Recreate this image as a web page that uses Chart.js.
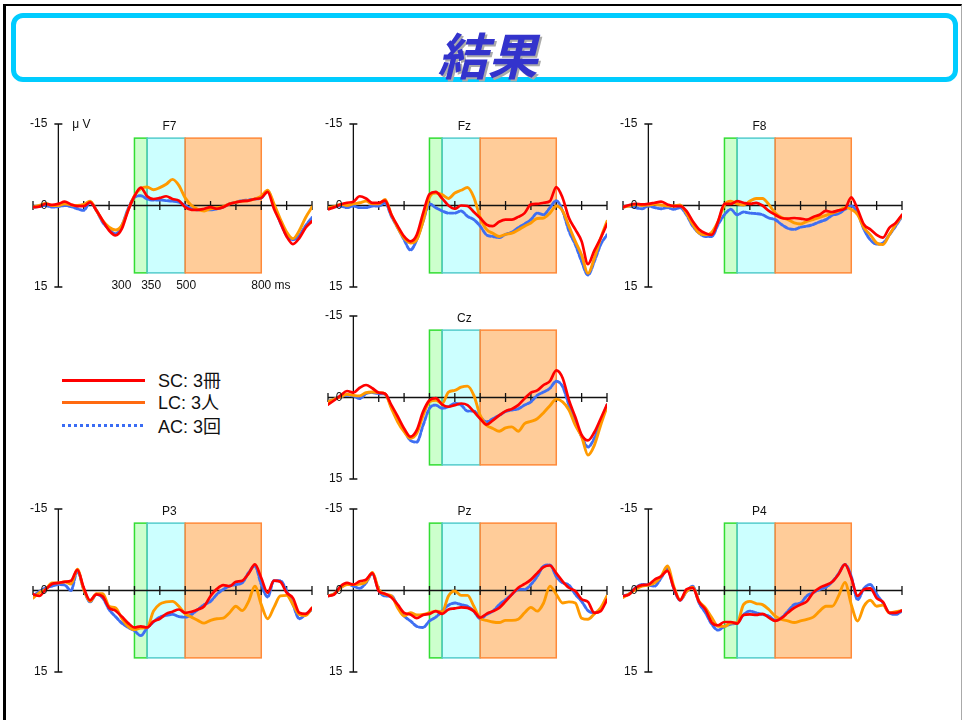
<!DOCTYPE html>
<html>
<head>
<meta charset="utf-8">
<script src="https://cdn.jsdelivr.net/npm/chart.js@4.4.1/dist/chart.umd.min.js"></script>
<style>
  html, body { margin: 0; padding: 0; background: #fff; }
  body { width: 963px; height: 720px; position: relative; overflow: hidden;
         font-family: "Liberation Sans", Arial, "Noto Sans CJK JP", sans-serif; }
  #frame { position: absolute; left: 3px; top: 4px; width: 959px; height: 740px;
           border-top: 2px solid #000; border-left: 3px solid #000; border-right: 1px solid #aaa;
           box-sizing: border-box; }
  #banner { position: absolute; left: 11px; top: 13px; width: 947px; height: 69px;
            border: 5px solid #00ccff; border-radius: 12px; box-sizing: border-box; }
  #title { position: absolute; left: 14px; top: 23px; width: 947px; height: 60px; line-height: 60px;
           text-align: center; font-family: "Noto Sans CJK JP", sans-serif; font-weight: 700;
           font-style: italic; font-size: 50px; color: #3333cc; text-shadow: 2px 2px 0 #aaaaaa; }
  canvas { position: absolute; }
  .lgline { position: absolute; left: 62px; width: 83px; height: 3px; }
  .lgtext { position: absolute; left: 158px; height: 20px; line-height: 20px; font-size: 18px; color: #111;
            font-family: "Liberation Sans", Arial, "Noto Sans CJK JP", sans-serif; white-space: nowrap; }
</style>
</head>
<body>
<div id="frame"></div>
<div id="banner"></div>
<div id="title">結果</div>

<div class="lgline" style="top:378.5px;background:#ff0000;"></div>
<div class="lgtext" style="top:371px;">SC: 3冊</div>
<div class="lgline" style="top:400.5px;background:#ff6a10;"></div>
<div class="lgtext" style="top:393px;">LC: 3人</div>
<div class="lgline" style="top:424px;background:repeating-linear-gradient(90deg,#3a6cf4 0 3px,transparent 3px 6px);"></div>
<div class="lgtext" style="top:416.5px;">AC: 3回</div>

<script>
// Sample times (ms) shared by every trace
const times = [-100, -75, -50, -25, 0, 25, 50, 75, 100, 125, 150, 175, 200, 225, 250, 275, 300,
  325, 350, 375, 400, 425, 450, 475, 500, 525, 550, 575, 600, 625, 650, 675, 700, 725, 750, 775,
  800, 825, 850, 875, 900, 925, 950, 975, 1000];

// Axis ticks and labels
const xTicks = [-100, 0, 100, 200, 300, 400, 500, 600, 700, 800, 900, 1000];
const yTickLabels = [-15, 0, 15];
const yLimits = [-15, 15];

// Analysis windows (ms) and their vertical extent (µV)
const windowStarts = [300, 350, 500];
const windowEnds = [350, 500, 800];
const windowLimit = 12.4;
const windowLabels = ['300', '350', '500', '800 ms'];

// Channel names
const channels = ['F7', 'Fz', 'F8', 'Cz', 'P3', 'Pz', 'P4'];

// Grand-average amplitudes (µV), negative up
const f7SC = [0.3, 0.2, -0.3, -0.1, -0.3, -0.7, -0.2, 0.1, 0.1, -0.6, 0.9, 2.8, 4.6, 5.5, 4.3, 0.9, -1.7,
  -3.3, -1.7, -1.2, -1.4, -1.7, -1.2, -0.9, 0.3, 0.8, 0.8, 0.6, 0.3, 0.6, 0.3, -0.3, -0.6, -0.8, -0.9, -1.2,
  -1.4, -2.5, 0.6, 3.1, 5.7, 7.1, 6.0, 4.1, 2.9];
const f7LC = [0.3, 0.0, -0.4, 0.0, 0.0, -0.3, -0.1, 0.0, -0.2, -0.8, 0.9, 2.8, 4.0, 4.5, 3.7, 0.9, -1.8,
  -3.1, -3.4, -2.9, -3.3, -3.9, -4.8, -3.7, -1.4, 0.0, 0.7, 1.0, 0.6, 0.4, 0.2, -0.3, -0.6, -0.8, -0.9, -1.2,
  -1.7, -2.8, -0.3, 2.5, 4.9, 6.1, 4.6, 2.2, 0.3];
const f7AC = [0.3, 0.2, 0.0, 0.3, 0.2, 0.0, 0.2, 0.6, 0.9, -0.6, 0.9, 3.1, 4.3, 5.2, 3.7, 0.6, -1.5,
  -1.8, -1.2, -1.0, -1.0, -0.9, -0.8, -0.6, 0.0, 0.6, 0.8, 0.8, 0.8, 0.6, 0.3, -0.3, -0.6, -0.9, -1.0, -1.2,
  -1.4, -2.6, 0.0, 3.1, 5.5, 6.3, 5.5, 3.7, 2.2];

const fzSC = [0.7, 0.3, -0.2, -0.5, -0.7, -1.7, -1.3, -0.5, -0.5, -0.9, 1.7, 3.8, 5.7, 6.6, 5.4, 1.4, -2.1,
  -2.5, -1.3, 0.0, 0.6, 0.0, 0.1, 1.2, 2.3, 3.5, 3.8, 3.0, 2.6, 2.6, 2.1, 1.4, -0.2, -0.3, -0.5, -0.8,
  -3.4, -1.4, 2.3, 4.4, 6.6, 10.8, 8.3, 6.0, 3.4];
const fzLC = [0.4, 0.2, -0.2, 0.0, -0.3, -0.5, -0.8, -0.3, -0.3, -1.1, 1.7, 4.1, 6.0, 6.9, 6.3, 2.9, -1.5,
  -2.3, -2.0, -1.3, -2.3, -2.8, -3.3, -1.5, 2.2, 4.4, 5.1, 5.7, 5.3, 5.1, 4.5, 3.8, 3.2, 2.4, 2.3, 1.4,
  0.1, 1.0, 3.8, 6.6, 9.1, 12.5, 9.7, 6.0, 2.9];
const fzAC = [0.4, 0.3, 0.1, 0.4, 0.1, 0.4, 0.4, 0.1, 0.1, -0.5, 2.0, 4.1, 6.3, 8.2, 6.3, 2.9, -0.3,
  0.4, 1.0, 1.4, 1.4, 1.0, 2.0, 2.6, 3.8, 5.4, 5.7, 5.9, 5.3, 4.9, 4.1, 3.4, 2.6, 1.4, 1.7, 0.4,
  -0.9, 1.0, 4.7, 7.2, 10.3, 12.8, 10.3, 7.2, 5.4];

const f8SC = [0.3, -0.1, -0.3, -0.2, -0.3, -0.5, -0.7, -0.2, 0.1, 0.1, 1.0, 2.9, 4.4, 5.1, 5.4, 2.9, -0.3,
  -0.3, -0.8, -0.5, -0.3, -0.5, 0.0, 1.0, 1.7, 2.3, 2.4, 2.3, 2.4, 2.6, 2.1, 1.7, 1.0, 1.2, 0.9, 0.6,
  -1.5, 0.7, 3.5, 4.4, 5.4, 5.9, 4.1, 3.2, 1.7];
const f8LC = [0.3, 0.1, -0.2, 0.0, -0.1, -0.2, -0.1, 0.1, 0.1, -0.1, 1.4, 3.5, 5.1, 5.4, 4.9, 2.9, -0.1,
  -0.8, -0.3, -0.1, -0.8, -1.3, -1.3, -0.2, 1.4, 2.2, 2.6, 3.2, 3.4, 2.9, 2.6, 2.2, 1.8, 1.4, 1.0, 0.4,
  0.7, 1.7, 4.1, 5.4, 6.9, 7.2, 5.4, 3.5, 1.8];
const f8AC = [0.3, 0.1, 0.4, 0.6, 0.1, 0.4, 0.6, 0.4, 0.7, 0.4, 1.7, 3.8, 5.1, 5.7, 5.7, 3.5, 1.7,
  0.7, 1.7, 1.2, 1.4, 1.5, 1.7, 2.3, 2.6, 3.5, 4.2, 4.4, 4.0, 3.8, 3.5, 3.0, 2.6, 1.8, 1.5, 0.7,
  0.1, 1.4, 4.4, 6.3, 7.1, 6.9, 5.4, 3.8, 2.0];

const czSC = [1.3, 0.5, -0.4, -1.2, -0.9, -1.8, -2.3, -1.7, -0.9, -0.7, 1.4, 3.5, 5.7, 7.2, 6.0, 2.6, 0.5,
  0.1, 1.3, 1.7, 1.4, 1.1, 1.4, 2.6, 3.9, 5.0, 4.2, 3.3, 2.5, 2.1, 1.4, 0.2, -0.9, -1.3, -2.3, -3.0,
  -5.0, -3.6, 0.5, 3.6, 6.9, 7.9, 6.4, 3.9, 1.3];
const czLC = [0.8, 0.3, -0.1, -0.6, -0.4, -0.3, -0.9, -1.0, -0.9, -0.7, 2.0, 4.5, 6.3, 7.5, 6.6, 3.3, 0.8,
  0.5, 1.1, -1.0, -1.3, -1.9, -2.1, -0.4, 3.3, 5.1, 5.7, 6.2, 5.6, 5.4, 6.2, 4.8, 4.4, 3.9, 2.8, 1.5,
  0.3, 0.8, 2.3, 5.1, 7.2, 10.6, 8.8, 5.1, 1.7];
const czAC = [0.8, 0.3, -0.1, -0.4, -0.3, 0.2, -0.7, -0.9, -0.7, -0.6, 1.7, 4.2, 6.0, 7.9, 8.2, 5.1, 2.0,
  1.4, 2.0, 1.7, 1.1, 1.4, 2.5, 2.5, 3.6, 4.5, 3.9, 3.3, 2.6, 2.3, 2.1, 1.4, 0.8, -0.4, -1.0, -1.7,
  -3.0, -2.0, 1.4, 4.5, 7.2, 9.1, 7.5, 4.5, 1.4];

const p3SC = [0.7, 1.0, -0.2, -1.2, -1.4, -1.6, -1.8, -3.8, -0.5, 1.8, 0.7, 1.1, 3.2, 3.7, 4.8, 6.0, 6.8,
  6.6, 6.8, 5.7, 5.2, 4.3, 3.9, 3.5, 4.1, 3.9, 3.5, 2.9, 1.0, -0.3, -1.0, -0.8, -1.6, -1.8, -3.1, -4.8,
  -2.3, 0.4, -1.8, -1.6, 0.4, 1.4, 4.1, 4.3, 3.2];
const p3LC = [1.4, 0.4, -0.2, -1.4, -1.4, -1.6, -1.2, -3.9, -0.2, 2.0, 0.6, 0.6, 2.9, 3.2, 5.1, 6.6, 7.2,
  6.9, 6.8, 3.8, 2.5, 2.1, 2.0, 2.9, 4.3, 4.9, 5.5, 6.0, 5.5, 5.2, 5.1, 4.1, 2.9, 3.7, 2.0, -0.8,
  2.6, 5.2, 3.1, 1.0, 0.9, 2.6, 4.4, 4.6, 3.2];
const p3AC = [1.0, 0.2, -0.5, -0.8, -1.1, -1.0, 0.0, -3.6, -0.2, 2.1, 0.7, 1.4, 3.5, 4.8, 6.0, 6.8, 7.4,
  8.3, 6.9, 5.8, 4.9, 4.6, 4.4, 4.8, 4.9, 4.4, 3.5, 2.6, 2.0, 0.7, -0.2, -0.8, -1.1, -1.4, -3.3, -4.5,
  -1.1, 1.2, -1.8, -1.8, 0.1, 2.6, 5.2, 4.4, 3.5];

const pzSC = [1.0, 0.7, -0.8, -1.4, -1.1, -1.7, -2.0, -3.2, 0.1, 0.6, 1.3, 2.6, 4.1, 4.4, 5.1, 4.5, 4.3,
  3.8, 4.3, 3.5, 3.3, 3.1, 3.2, 3.8, 5.0, 4.3, 3.8, 3.2, 2.0, 0.7, -0.5, -1.2, -2.0, -3.2, -4.3, -4.6,
  -3.2, -1.7, -0.5, 0.1, 1.6, 2.1, 4.1, 3.8, 1.7];
const pzLC = [1.0, 0.6, -0.5, -1.1, -1.1, -1.2, -1.6, -3.3, -0.2, 0.7, 1.0, 3.2, 4.7, 4.1, 4.5, 4.4, 4.1,
  3.8, 3.9, 1.0, 0.1, 0.9, 0.9, 2.9, 5.1, 5.5, 5.8, 5.9, 5.5, 5.5, 5.3, 4.1, 3.1, 3.8, 2.3, -0.8,
  0.7, 2.3, 2.1, 2.3, 5.1, 5.3, 4.3, 3.2, 1.0];
const pzAC = [1.0, 0.6, -0.5, -1.2, -0.8, -0.4, -1.4, -3.1, 0.0, 1.0, 1.0, 2.9, 4.7, 5.6, 6.6, 6.8, 5.6,
  4.9, 3.8, 2.7, 2.3, 2.6, 2.9, 3.8, 5.2, 4.4, 3.8, 2.6, 1.7, 0.7, -0.2, -0.2, -1.1, -2.6, -4.5, -4.7,
  -2.6, -1.4, -1.0, 0.7, 2.0, 3.7, 4.1, 3.5, 1.3];

const p4SC = [1.0, 0.7, -0.5, -1.0, -1.1, -2.0, -2.6, -3.6, -0.5, 1.8, -0.2, -0.5, 2.1, 3.5, 5.9, 6.4, 5.8,
  5.8, 6.1, 4.5, 4.4, 4.5, 4.3, 5.0, 5.6, 5.1, 4.1, 3.2, 2.6, 2.0, 0.4, -0.5, -1.0, -1.6, -3.0, -4.8,
  -2.3, 1.0, -0.2, -0.4, 1.4, 2.1, 4.1, 4.1, 3.7];
const p4LC = [1.3, 0.6, -0.2, -0.8, -1.0, -1.4, -2.6, -4.5, -0.8, 1.7, 0.2, -0.6, 2.0, 3.2, 5.0, 6.6, 6.6,
  6.0, 5.9, 2.6, 2.0, 2.4, 2.6, 3.5, 4.7, 5.3, 5.6, 5.9, 5.6, 5.3, 4.9, 3.8, 2.9, 2.9, 1.0, -1.5,
  2.6, 5.6, 2.9, 1.8, 2.9, 2.7, 4.1, 3.9, 3.7];
const p4AC = [1.0, 0.6, -0.5, -1.1, -1.0, -0.8, -2.3, -4.0, -0.4, 1.8, 0.2, -0.8, 2.3, 4.1, 6.2, 7.3, 6.6,
  6.2, 5.9, 4.5, 3.8, 4.1, 4.4, 4.7, 5.5, 5.0, 3.8, 2.6, 2.3, 1.0, 0.4, -0.2, -0.6, -1.6, -3.1, -4.8,
  -2.6, 1.7, -0.4, -1.1, 0.7, 2.3, 4.1, 4.4, 3.8];

const channelSeries = {
  F7: [f7SC, f7LC, f7AC], Fz: [fzSC, fzLC, fzAC], F8: [f8SC, f8LC, f8AC], Cz: [czSC, czLC, czAC],
  P3: [p3SC, p3LC, p3AC], Pz: [pzSC, pzLC, pzAC], P4: [p4SC, p4LC, p4AC]
};

// ---- layout and style ----
const PAD = { left: 32, top: 14, right: 10, bottom: 14 };
const AREA_W = 279, AREA_H = 163;
const panelPos = {            // top-left corner of each plot area (px)
  F7: [33, 124], Fz: [328, 124], F8: [623, 124],
  Cz: [328, 316],
  P3: [33, 509], Pz: [328, 509], P4: [623, 509]
};
const windowFill = ['#ccffcc', '#ccffff', '#ffcc99'];
const windowEdge = ['#33dd33', '#55cccc', '#ff8a3a'];
const FONT = '12px "Liberation Sans", Arial, sans-serif';

// Draws the analysis windows, the crossing axes and the panel texts
const erpDecor = {
  id: 'erpDecor',
  beforeDatasetsDraw(chart, args, opts) {
    const { ctx, scales: { x, y } } = chart;
    ctx.save();
    for (let i = 0; i < windowStarts.length; i++) {
      const l = x.getPixelForValue(windowStarts[i]), r = x.getPixelForValue(windowEnds[i]);
      const t = y.getPixelForValue(-windowLimit), b = y.getPixelForValue(windowLimit);
      ctx.fillStyle = windowFill[i];
      ctx.fillRect(l, t, r - l, b - t);
    }
    ctx.lineWidth = 1.5;
    for (let i = 0; i < windowStarts.length; i++) {
      const l = x.getPixelForValue(windowStarts[i]), r = x.getPixelForValue(windowEnds[i]);
      const t = y.getPixelForValue(-windowLimit), b = y.getPixelForValue(windowLimit);
      ctx.strokeStyle = windowEdge[i];
      ctx.strokeRect(l, t, r - l, b - t);
    }
    // axes through the origin
    const x0 = x.getPixelForValue(0), y0 = y.getPixelForValue(0);
    ctx.strokeStyle = '#111';
    ctx.lineWidth = 1.3;
    ctx.beginPath();
    ctx.moveTo(x.getPixelForValue(xTicks[0]), y0);
    ctx.lineTo(x.getPixelForValue(xTicks[xTicks.length - 1]), y0);
    xTicks.forEach(v => {
      const px = x.getPixelForValue(v);
      ctx.moveTo(px, y0 - 4.5); ctx.lineTo(px, y0 + 4.5);
    });
    ctx.moveTo(x0, y.getPixelForValue(yLimits[0]));
    ctx.lineTo(x0, y.getPixelForValue(yLimits[1]));
    yLimits.forEach(v => {
      const py = y.getPixelForValue(v);
      ctx.moveTo(x0 - 4, py); ctx.lineTo(x0 + 4, py);
    });
    ctx.stroke();
    ctx.restore();
  },
  afterDatasetsDraw(chart, args, opts) {
    const { ctx, scales: { x, y }, chartArea } = chart;
    const x0 = x.getPixelForValue(0);
    ctx.save();
    ctx.font = FONT;
    ctx.fillStyle = '#111';
    ctx.textBaseline = 'middle';
    ctx.textAlign = 'right';
    yTickLabels.forEach(v => ctx.fillText(String(v), x0 - 11, y.getPixelForValue(v)));
    ctx.textAlign = 'center';
    ctx.fillText(opts.name, x.getPixelForValue(438), chartArea.top + 3);
    if (opts.showUnits) {
      ctx.textAlign = 'left';
      ctx.fillText('μ V', x0 + 14, chartArea.top + 1);
      const ly = chartArea.bottom - 1;
      ctx.textAlign = 'right';
      ctx.fillText(windowLabels[0], x.getPixelForValue(windowStarts[0]) - 3, ly);
      ctx.textAlign = 'center';
      ctx.fillText(windowLabels[1], x.getPixelForValue(windowStarts[1]) + 4, ly);
      ctx.fillText(windowLabels[2], x.getPixelForValue(windowStarts[2]) + 1, ly);
      ctx.textAlign = 'left';
      const w800 = ctx.measureText('800').width;
      ctx.fillText(windowLabels[3], x.getPixelForValue(windowEnds[2]) - w800 / 2, ly);
    }
    ctx.restore();
  }
};

function trace(values) {
  return times.map((t, i) => ({ x: t, y: values[i] }));
}

channels.forEach(name => {
  const [sc, lc, ac] = channelSeries[name];
  const [ax, ay] = panelPos[name];
  const canvas = document.createElement('canvas');
  canvas.width = AREA_W + PAD.left + PAD.right;
  canvas.height = AREA_H + PAD.top + PAD.bottom;
  canvas.style.left = (ax - PAD.left) + 'px';
  canvas.style.top = (ay - PAD.top) + 'px';
  document.body.appendChild(canvas);

  new Chart(canvas, {
    type: 'line',
    data: {
      datasets: [
        { label: 'SC: 3冊', data: trace(sc), borderColor: '#ff0000', borderWidth: 2.7, order: 0 },
        { label: 'LC: 3人', data: trace(lc), borderColor: '#ff9a00', borderWidth: 2.9, order: 1 },
        { label: 'AC: 3回', data: trace(ac), borderColor: '#3f6ff2', borderWidth: 2.9,
          borderDash: [4, 2], order: 2 }
      ]
    },
    options: {
      responsive: false,
      animation: false,
      devicePixelRatio: 1,
      layout: { padding: PAD },
      elements: {
        point: { radius: 0, hoverRadius: 0 },
        line: { cubicInterpolationMode: 'monotone', fill: false, borderCapStyle: 'round', borderJoinStyle: 'round' }
      },
      scales: {
        x: { type: 'linear', min: -100, max: 1000, display: false },
        y: { type: 'linear', min: yLimits[0], max: yLimits[1], reverse: true, display: false }
      },
      plugins: {
        legend: { display: false },
        tooltip: { enabled: false },
        erpDecor: { name: name, showUnits: name === 'F7' }
      }
    },
    plugins: [erpDecor]
  });
});
</script>
</body>
</html>
